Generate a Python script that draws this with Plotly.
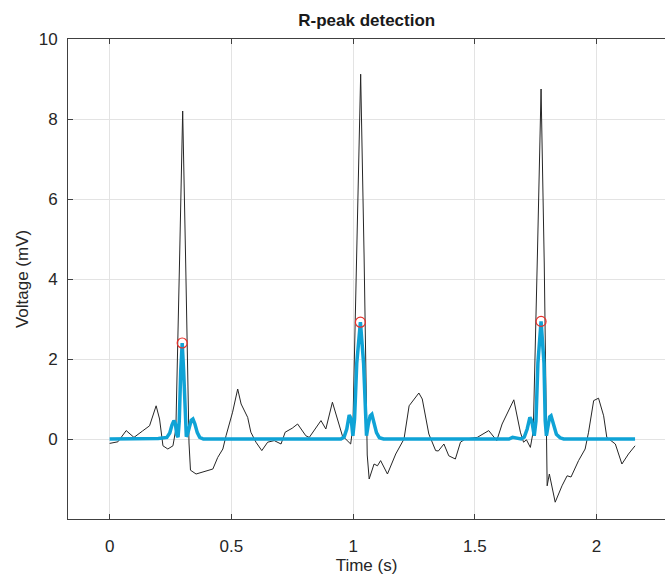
import plotly.graph_objects as go

# ECG signal (black)
ecg_t = [0.000, 0.034, 0.068, 0.100, 0.135, 0.164, 0.191, 0.205, 0.219, 0.239,
         0.260, 0.272, 0.287, 0.300, 0.313, 0.326, 0.332, 0.355, 0.424, 0.444,
         0.465, 0.478, 0.505, 0.526, 0.540, 0.567, 0.580, 0.601, 0.625, 0.649,
         0.676, 0.704, 0.721, 0.750, 0.772, 0.806, 0.820, 0.868, 0.888, 0.915,
         0.956, 0.990, 0.999, 1.016, 1.031, 1.045, 1.058, 1.066, 1.086, 1.100,
         1.113, 1.141, 1.175, 1.209, 1.230, 1.270, 1.284, 1.311, 1.339, 1.350,
         1.373, 1.393, 1.420, 1.441, 1.461, 1.510, 1.557, 1.590, 1.612, 1.660,
         1.687, 1.700, 1.712, 1.728, 1.740, 1.757, 1.772, 1.785, 1.793, 1.797,
         1.806, 1.830, 1.858, 1.879, 1.895, 1.926, 1.953, 1.967, 1.988, 2.008,
         2.029, 2.042, 2.077, 2.104, 2.131, 2.158]
ecg_v = [-0.11, -0.07, 0.21, 0.04, 0.20, 0.33, 0.83, 0.50, -0.17, -0.25,
         -0.17, 0.25, 4.40, 8.20, 4.20, -0.10, -0.78, -0.875, -0.75, -0.46,
         -0.25, 0.08, 0.67, 1.25, 0.875, 0.54, 0.17, -0.08, -0.29, -0.08,
         -0.04, -0.125, 0.17, 0.27, 0.375, 0.08, 0.04, 0.46, 0.25, 0.92,
         0.08, -0.125, 0.30, 4.90, 9.12, 4.60, -0.40, -1.00, -0.625, -0.67,
         -0.54, -0.875, -0.375, 0.00, 0.83, 1.15, 1.00, 0.125, -0.29, -0.30,
         -0.125, -0.42, -0.50, -0.08, 0.00, 0.04, 0.21, -0.04, 0.375, 0.98,
         0.17, -0.08, -0.02, -0.21, 0.20, 4.60, 8.75, 4.40, -0.30, -1.17,
         -0.875, -1.58, -1.17, -0.92, -0.95, -0.54, -0.25, 0.17, 0.96, 1.02,
         0.58, 0.04, -0.125, -0.625, -0.375, -0.17]

# Filtered / energy signal (blue)
flt_t = [0.000, 0.150, 0.200, 0.235, 0.247, 0.256, 0.264, 0.270, 0.276, 0.281,
         0.286, 0.292, 0.298, 0.304, 0.310, 0.315, 0.320, 0.327, 0.335, 0.342,
         0.350, 0.360, 0.370, 0.385, 0.600, 0.950, 0.963, 0.974, 0.984, 0.992,
         0.999, 1.006, 1.015, 1.030, 1.043, 1.050, 1.055, 1.062, 1.070, 1.077,
         1.086, 1.096, 1.108, 1.125, 1.400, 1.640, 1.655, 1.690, 1.703, 1.715,
         1.726, 1.734, 1.744, 1.751, 1.759, 1.772, 1.784, 1.789, 1.794, 1.800,
         1.807, 1.813, 1.822, 1.835, 1.850, 1.865, 2.158]
flt_v = [0.00, 0.00, 0.01, 0.04, 0.15, 0.35, 0.46, 0.38, 0.10, 0.05,
         0.45, 1.70, 2.40, 1.70, 0.45, 0.06, 0.12, 0.33, 0.47, 0.50,
         0.38, 0.16, 0.04, 0.00, 0.00, 0.00, 0.05, 0.25, 0.60, 0.50,
         0.08, 0.50, 1.90, 2.92, 1.90, 0.50, 0.08, 0.35, 0.58, 0.62,
         0.42, 0.16, 0.03, 0.00, 0.00, 0.00, 0.04, 0.00, 0.05, 0.25,
         0.54, 0.45, 0.08, 0.45, 1.90, 2.94, 1.90, 0.45, 0.08, 0.32,
         0.55, 0.58, 0.36, 0.12, 0.03, 0.00, 0.00]

# Detected R-peaks
peak_t = [0.298, 1.030, 1.772]
peak_v = [2.40, 2.92, 2.94]

x_ticks = [0, 0.5, 1, 1.5, 2]
x_labels = ["0", "0.5", "1", "1.5", "2"]
y_ticks = [0, 2, 4, 6, 8, 10]
y_labels = ["0", "2", "4", "6", "8", "10"]

FONT = "Liberation Sans, Arial, sans-serif"
AX = "#404040"

fig = go.Figure()
fig.add_trace(go.Scatter(x=ecg_t, y=ecg_v, mode="lines",
                         line=dict(color="#262626", width=1), showlegend=False))
fig.add_trace(go.Scatter(x=flt_t, y=flt_v, mode="lines",
                         line=dict(color="#0FA3D6", width=3.5), showlegend=False))
fig.add_trace(go.Scatter(x=peak_t, y=peak_v, mode="markers",
                         marker=dict(symbol="circle-open", size=10, color="#E8302A",
                                     line=dict(width=1.2, color="#E8302A")),
                         showlegend=False))

fig.update_layout(
    width=665, height=575,
    margin=dict(l=68, r=0, t=39, b=56),
    paper_bgcolor="white", plot_bgcolor="white",
    title=dict(text="<b>R-peak detection</b>", x=0.5515, xanchor="center",
               y=0.965, yanchor="middle",
               font=dict(family=FONT, size=17, color="#1a1a1a")),
    font=dict(family=FONT, size=17, color="#262626"),
)
fig.update_xaxes(range=[-0.171, 2.281], tickvals=x_ticks, ticktext=x_labels,
                 ticks="inside", ticklen=5, tickcolor=AX, showline=True,
                 linecolor=AX, linewidth=1, mirror="ticks", showgrid=True,
                 gridcolor="#e3e3e3", zeroline=False, ticklabelstandoff=12,
                 title=dict(text="Time (s)", standoff=2,
                            font=dict(family=FONT, size=17, color="#262626")),
                 tickfont=dict(family=FONT, size=17, color="#262626"))
fig.update_yaxes(range=[-2, 10], tickvals=y_ticks, ticktext=y_labels,
                 ticks="inside", ticklen=5, tickcolor=AX, showline=True,
                 linecolor=AX, linewidth=1, mirror=False, showgrid=True,
                 gridcolor="#e3e3e3", zeroline=False, ticklabelstandoff=6,
                 title=dict(text="Voltage (mV)", standoff=5,
                            font=dict(family=FONT, size=17, color="#262626")),
                 tickfont=dict(family=FONT, size=17, color="#262626"))

fig.write_html("out.html")
